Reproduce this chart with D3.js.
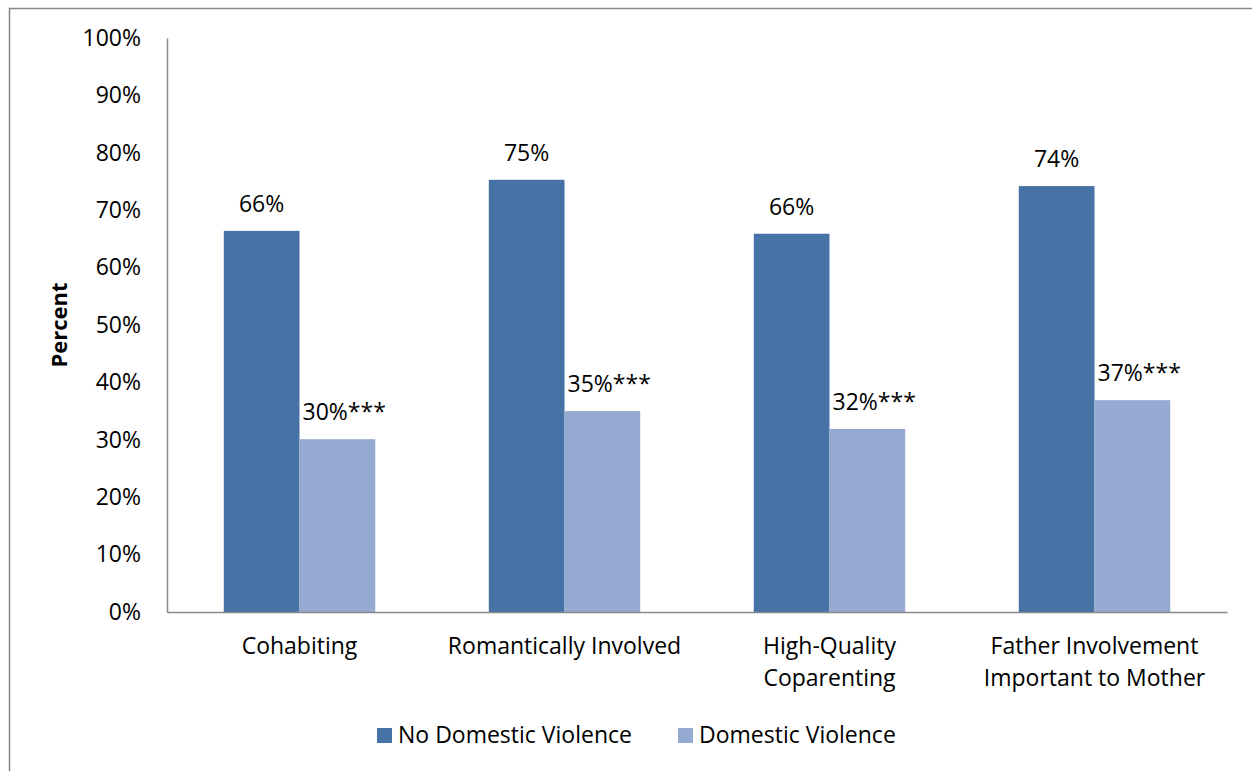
<!DOCTYPE html>
<html>
<head>
<meta charset="utf-8">
<script src="https://cdn.jsdelivr.net/npm/d3@7"></script>
<style>
  body { margin: 0; background: #fff; }
  svg text { font-family: "Open Sans", Lato, sans-serif; fill: #000; }
</style>
</head>
<body>
<div id="chart"></div>
<script>
// data
var categories = [["Cohabiting"], ["Romantically Involved"], ["High-Quality", "Coparenting"], ["Father Involvement", "Important to Mother"]];
var noViolence = [66.4, 75.3, 65.9, 74.2];
var violence = [30.1, 35.0, 31.9, 36.9];
var noViolenceLabels = ["66%", "75%", "66%", "74%"];
var violenceLabels = ["30%***", "35%***", "32%***", "37%***"];
var seriesNames = ["No Domestic Violence", "Domestic Violence"];
var seriesColors = ["#4672a6", "#95aad1"];
var yTicks = [0, 10, 20, 30, 40, 50, 60, 70, 80, 90, 100];

var W = 1252, H = 771;
var margin = { top: 38, right: 25, bottom: 159, left: 167 };
var width = W - margin.left - margin.right,
    height = H - margin.top - margin.bottom;
var fs = "23px";

var svg = d3.select("#chart").append("svg")
    .attr("width", W)
    .attr("height", H);

// outer frame, cut off at right and bottom like the source
svg.append("rect")
    .attr("x", 9.5).attr("y", 8.5)
    .attr("width", W + 20).attr("height", H + 20)
    .attr("fill", "none")
    .attr("stroke", "#888")
    .attr("stroke-width", 1.5);

var g = svg.append("g")
    .attr("transform", "translate(" + margin.left + "," + margin.top + ")");

var x0 = d3.scaleBand()
    .domain(d3.range(categories.length))
    .range([0, width]);

// 150% gap width: two bars plus 1.5 bar gap
var barW = x0.bandwidth() / 3.5;
var x1 = d3.scaleBand()
    .domain([0, 1])
    .range([barW * 0.75, barW * 2.75]);

var y = d3.scaleLinear()
    .domain([0, 100])
    .range([height, 0]);

// y axis
var yAxis = g.append("g")
    .call(d3.axisLeft(y).tickValues(yTicks).tickSize(0).tickPadding(26)
        .tickFormat(function (d) { return d + "%"; }));
yAxis.select(".domain").attr("stroke", "#888").attr("stroke-width", 1.5);
yAxis.selectAll("text").style("font-size", fs).attr("fill", "#000")
    .style("font-family", "'Open Sans', sans-serif");

g.append("text")
    .attr("transform", "translate(-100," + (height / 2) + ") rotate(-90)")
    .attr("text-anchor", "middle")
    .style("font-size", "22px")
    .style("font-weight", "bold")
    .text("Percent");

// bars
var series = [noViolence, violence];
var labels = [noViolenceLabels, violenceLabels];
series.forEach(function (vals, s) {
    g.selectAll(".bar" + s)
        .data(vals)
        .enter().append("rect")
        .attr("x", function (d, i) { return x0(i) + x1(s); })
        .attr("y", function (d) { return y(d); })
        .attr("width", x1.bandwidth())
        .attr("height", function (d) { return height - y(d); })
        .attr("fill", seriesColors[s]);

    g.selectAll(".lab" + s)
        .data(vals)
        .enter().append("text")
        .attr("x", function (d, i) {
            return s == 0 ? x0(i) + x1(s) + x1.bandwidth() / 2 : x0(i) + x1(s) + 3;
        })
        .attr("y", function (d) { return y(d) - 19; })
        .attr("text-anchor", s == 0 ? "middle" : "start")
        .style("font-size", fs)
        .text(function (d, i) { return labels[s][i]; });
});

// x axis
var xAxis = g.append("g")
    .attr("transform", "translate(0," + height + ")")
    .call(d3.axisBottom(x0).tickSize(0).tickFormat(""));
xAxis.select(".domain").attr("stroke", "#888").attr("stroke-width", 1.5);

categories.forEach(function (lines, i) {
    var t = g.append("text")
        .attr("x", x0(i) + x0.bandwidth() / 2)
        .attr("y", height + 42)
        .attr("text-anchor", "middle")
        .style("font-size", fs);
    lines.forEach(function (ln, k) {
        t.append("tspan")
            .attr("x", x0(i) + x0.bandwidth() / 2)
            .attr("dy", k == 0 ? 0 : 32)
            .text(ln);
    });
});

// legend
var legendX = [377, 678];
seriesNames.forEach(function (name, s) {
    svg.append("rect")
        .attr("x", legendX[s]).attr("y", 728)
        .attr("width", 15).attr("height", 15)
        .attr("fill", seriesColors[s]);
    svg.append("text")
        .attr("x", legendX[s] + 21).attr("y", 743)
        .style("font-size", fs)
        .text(name);
});
</script>
</body>
</html>
